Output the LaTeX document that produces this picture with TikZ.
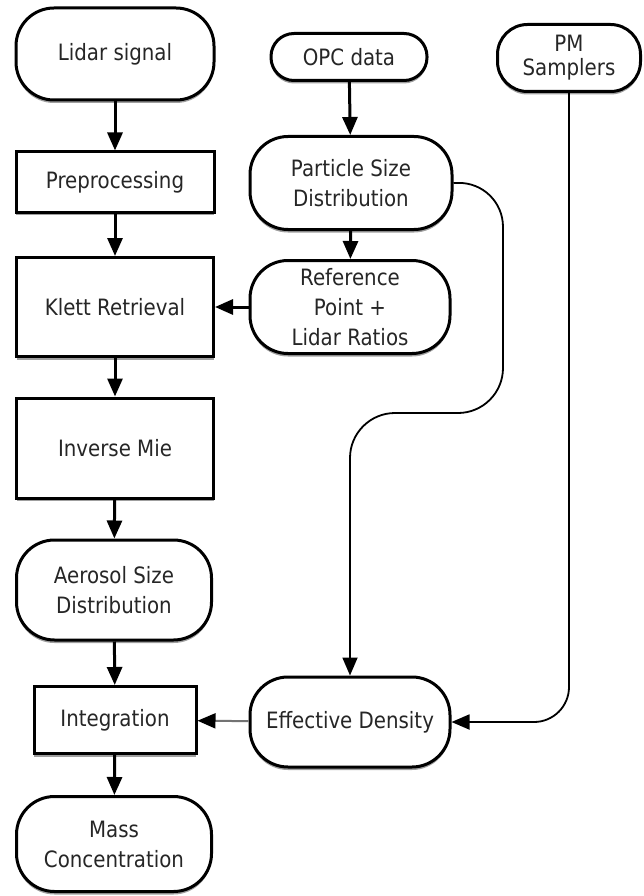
\documentclass[tikz,border=0pt]{standalone}
\usepackage{fontspec}
\setmainfont[FakeStretch=0.88]{DejaVu Sans}
\usetikzlibrary{arrows.meta,shadows}
\begin{document}
\begin{tikzpicture}[x=1pt,y=-1pt,
  base/.style={draw=black,line width=3pt,fill=white,align=center,text=black!85,
    font=\fontsize{22.5}{30}\selectfont,inner sep=0pt,
    drop shadow={shadow xshift=0pt,shadow yshift=-3pt,fill=gray!75,opacity=1}},
  term/.style={base,rectangle,rounded corners=#1},
  term/.default=38pt,
  proc/.style={base,rectangle},
  tip/.style={-{Triangle[length=18pt,width=15pt]}},
  arr/.style={line width=3pt,tip},
  thin/.style={line width=1.8pt,tip},
]
\useasboundingbox (0,0) rectangle (644,896);
\node[term] (lidar) at (115,54) [minimum width=198pt,minimum height=92pt] {Lidar signal};
\node[term=23pt] (opc) at (349,57) [minimum width=156pt,minimum height=47pt] {OPC data};
\node[term=30pt,font=\fontsize{22.5}{24}\selectfont] (pm) at (569,58) [minimum width=143pt,minimum height=67pt] {PM\\Samplers};
\node[proc] (pre) at (115,182) [minimum width=198pt,minimum height=60pt] {Preprocessing};
\node[term] (psd) at (351,183) [minimum width=202pt,minimum height=93pt] {Particle Size\\Distribution};
\node[proc] (klett) at (115,307) [minimum width=197pt,minimum height=99pt] {Klett Retrieval};
\node[term] (ref) at (350,307) [minimum width=200pt,minimum height=93pt] {Reference\\Point +\\Lidar Ratios};
\node[proc] (inv) at (115,448) [minimum width=197pt,minimum height=100pt] {Inverse Mie};
\node[term] (aer) at (114,590) [minimum width=195pt,minimum height=100pt] {Aerosol Size\\Distribution};
\node[proc] (integ) at (115,720) [minimum width=162pt,minimum height=67pt] {Integration};
\node[term] (ed) at (350,722) [minimum width=200pt,minimum height=90pt] {Effective Density};
\node[term] (mass) at (114,844) [minimum width=195pt,minimum height=95pt] {Mass\\Concentration};

\draw[arr] (lidar) -- (pre);
\draw[arr] (pre) -- (klett);
\draw[arr] (klett) -- (inv);
\draw[arr] (inv) -- (aer);
\draw[arr] (aer) -- (integ);
\draw[arr] (integ) -- (mass);
\draw[arr] (opc) -- (psd);
\draw[arr] (psd) -- (ref);
\draw[arr] (ref) -- (klett);
\draw[line width=2pt,draw=black!55,-{Triangle[length=18pt,width=15pt,color=black,fill=black]}] (ed) -- (integ);
\coordinate (c1) at (503,182);
\coordinate (c2) at (503,413);
\coordinate (c3) at (350,413);
\draw[thin,rounded corners=45pt] (psd.east) -- (c1) -- (c2) -- (c3) -- (ed.north);
\coordinate (c4) at (pm.south |- ed.east);
\draw[thin,rounded corners=35pt] (pm.south) -- (c4) -- (ed.east);
\end{tikzpicture}
\end{document}
